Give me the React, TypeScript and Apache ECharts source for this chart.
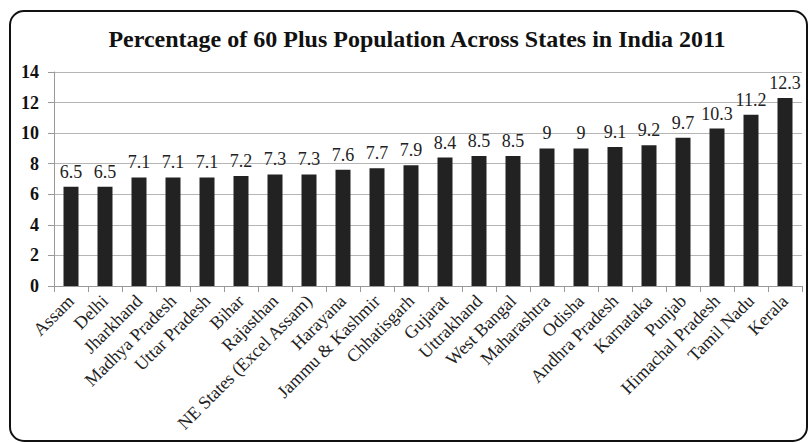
import React, { useEffect, useRef } from "react";
import * as echarts from "echarts";

const titleText = "Percentage of 60 Plus Population Across States in India 2011";

const states = [
  "Assam",
  "Delhi",
  "Jharkhand",
  "Madhya Pradesh",
  "Uttar Pradesh",
  "Bihar",
  "Rajasthan",
  "NE States (Excel Assam)",
  "Harayana",
  "Jammu & Kashmir",
  "Chhatisgarh",
  "Gujarat",
  "Uttrakhand",
  "West Bangal",
  "Maharashtra",
  "Odisha",
  "Andhra Pradesh",
  "Karnataka",
  "Punjab",
  "Himachal Pradesh",
  "Tamil Nadu",
  "Kerala",
];

const percentages = [
  6.5, 6.5, 7.1, 7.1, 7.1, 7.2, 7.3, 7.3, 7.6, 7.7, 7.9, 8.4, 8.5, 8.5, 9, 9,
  9.1, 9.2, 9.7, 10.3, 11.2, 12.3,
];

const yMin = 0;
const yMax = 14;
const yInterval = 2;

const FONT = "Liberation Serif";

export default function App() {
  const ref = useRef<HTMLDivElement>(null);

  useEffect(() => {
    if (!ref.current) return;
    const chart = echarts.init(ref.current, undefined, { renderer: "svg" });
    chart.setOption({
      animation: false,
      backgroundColor: "#ffffff",
      textStyle: { fontFamily: FONT },
      title: {
        text: titleText,
        left: 412,
        textAlign: "center",
        top: 22,
        textStyle: {
          fontFamily: FONT,
          fontWeight: "bold",
          fontSize: 24,
          color: "#111111",
        },
      },
      graphic: [
        {
          type: "rect",
          shape: { x: 10, y: 11, width: 797, height: 430, r: 14 },
          style: { fill: "none", stroke: "#111111", lineWidth: 2 },
          silent: true,
          z: 100,
        },
      ],
      grid: { left: 54, right: 6, top: 72, bottom: 157, containLabel: false },
      xAxis: {
        type: "category",
        data: states,
        axisLine: { show: true, lineStyle: { color: "#999999", width: 1 } },
        axisTick: { show: true, length: 6, alignWithLabel: false, lineStyle: { color: "#999999" } },
        axisLabel: {
          interval: 0,
          rotate: 45,
          margin: 12,
          fontFamily: FONT,
          fontSize: 18,
          color: "#222222",
        },
      },
      yAxis: {
        type: "value",
        min: yMin,
        max: yMax,
        interval: yInterval,
        axisLine: { show: true, lineStyle: { color: "#999999", width: 1 } },
        axisTick: { show: true, length: 6, lineStyle: { color: "#999999" } },
        axisLabel: {
          margin: 15,
          fontFamily: FONT,
          fontWeight: "bold",
          fontSize: 18,
          color: "#111111",
        },
        splitLine: { show: true, lineStyle: { color: "#b5b5b5", width: 1 } },
      },
      series: [
        {
          type: "bar",
          data: percentages,
          barWidth: 15,
          itemStyle: { color: "#222222" },
          label: {
            show: true,
            position: "top",
            distance: 6,
            fontFamily: FONT,
            fontSize: 18,
            color: "#222222",
          },
        },
      ],
    });
    return () => chart.dispose();
  }, []);

  return (
    <div
      ref={ref}
      style={{ position: "absolute", left: 0, top: 0, width: 808, height: 443 }}
    />
  );
}
